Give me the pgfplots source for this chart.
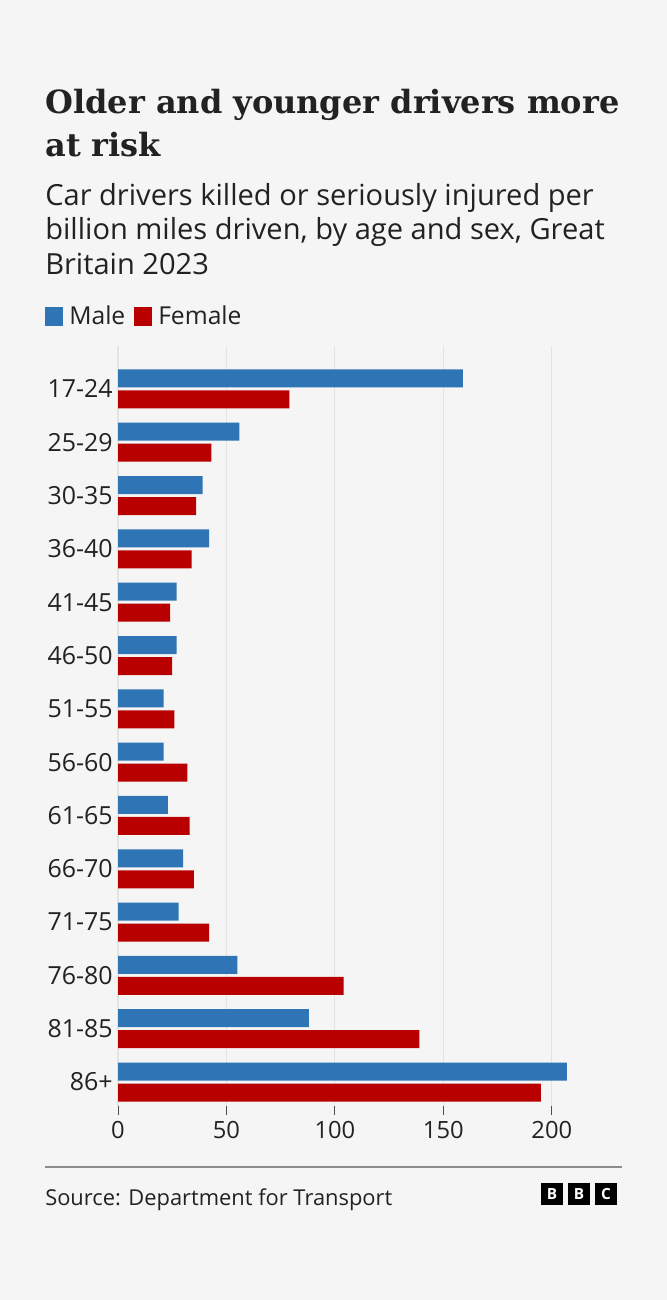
\documentclass[border=0pt]{standalone}
\usepackage{fontspec}
\usepackage{pgfplots}
\pgfplotsset{compat=1.18}
\setmainfont{Open Sans}
\newfontfamily\titlefont{DejaVu Serif}
\definecolor{bg}{HTML}{F5F5F5}
\definecolor{male}{HTML}{2F74B5}
\definecolor{female}{HTML}{B80000}
\definecolor{txt}{HTML}{222222}
\definecolor{gridc}{HTML}{E3E3E3}
\definecolor{rule}{HTML}{8C8C8C}

\pgfplotstableread{
idx male female
0 207 195
1 88 139
2 55 104
3 28 42
4 30 35
5 23 33
6 21 32
7 21 26
8 27 25
9 27 24
10 42 34
11 39 36
12 56 43
13 159 79
}\datatable

\begin{document}
\begin{tikzpicture}
\fill[bg] (0,0) rectangle (667*0.75pt,-1300*0.75pt);
\begin{scope}[x=0.75pt,y=-0.75pt]
% title
\node[anchor=base west,inner sep=0,text=txt,font=\titlefont\bfseries\fontsize{24pt}{30pt}\selectfont] at (45,113.3) {Older and younger drivers more};
\node[anchor=base west,inner sep=0,text=txt,font=\titlefont\bfseries\fontsize{24pt}{30pt}\selectfont] at (45,156.7) {at risk};
% subtitle
\node[anchor=base west,inner sep=0,text=txt,font=\fontsize{21.8pt}{26pt}\selectfont] at (45,205) {Car drivers killed or seriously injured per};
\node[anchor=base west,inner sep=0,text=txt,font=\fontsize{21.8pt}{26pt}\selectfont] at (45,239.5) {billion miles driven, by age and sex, Great};
\node[anchor=base west,inner sep=0,text=txt,font=\fontsize{21.8pt}{26pt}\selectfont] at (45,274) {Britain 2023};
% legend
\fill[male] (45,307) rectangle (63,326);
\node[anchor=base west,inner sep=0,text=txt,font=\fontsize{18.5pt}{22pt}\selectfont] at (69,324.5) {Male};
\fill[female] (134,307) rectangle (152,326);
\node[anchor=base west,inner sep=0,text=txt,font=\fontsize{18.5pt}{22pt}\selectfont] at (158,324.5) {Female};
% footer
\draw[rule,line width=1.5pt] (45,1167) -- (622,1167);
\node[anchor=base west,inner sep=0,text=txt,font=\fontsize{16.4pt}{19pt}\selectfont] at (45,1205) {Source: Department for Transport};
\foreach \xx/\ll in {541/B,568/B,595/C}{
  \fill[black] (\xx,1183) rectangle (\xx+22,1205);
  \node[text=white,inner sep=0,font=\bfseries\fontsize{11.5pt}{12pt}\selectfont] at (\xx+11,1194) {\ll};
}
\end{scope}
\begin{axis}[
  at={(118*0.75pt,-1106*0.75pt)}, anchor=south west,
  scale only axis,
  width=366pt, height=570.2pt,
  xmin=0, xmax=225, ymin=-0.45, ymax=13.81,
  xbar, bar width=13.5pt,
  axis line style={draw=none},
  xmajorgrids, grid style={gridc, line width=0.8pt},
  xtick={0,50,100,150,200},
  ytick={0,...,13},
  yticklabels={86+,81-85,76-80,71-75,66-70,61-65,56-60,51-55,46-50,41-45,36-40,30-35,25-29,17-24},
  xtick pos=bottom, ytick pos=left,
  tick align=outside,
  major tick length=7pt,
  xtick style={draw=txt!80, line width=0.75pt},
  ytick style={draw=none},
  /pgf/number format/assume math mode=true,
  tick label style={text=txt},
  yticklabel style={xshift=6.5pt, font=\fontsize{18.7pt}{21pt}\selectfont},
  xticklabel style={yshift=-1pt, font=\fontsize{17.8pt}{20pt}\selectfont},
  clip=false,
]
\addplot[fill=male, draw=none, bar shift=7.875pt] table[x=male,y=idx] {\datatable};
\addplot[fill=female, draw=none, bar shift=-7.875pt] table[x=female,y=idx] {\datatable};
\end{axis}
\end{tikzpicture}
\end{document}
